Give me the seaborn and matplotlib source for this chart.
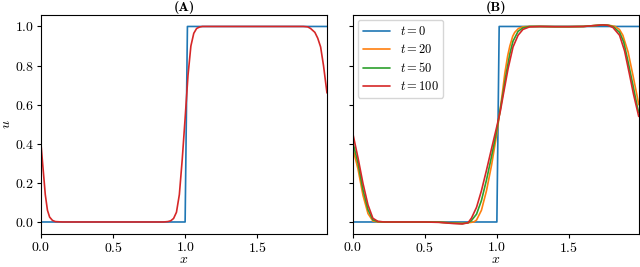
import numpy as np
import pandas as pd
import matplotlib
matplotlib.use('Agg')
import matplotlib.pyplot as plt
import seaborn as sns

# step (t = 0), same in both panels
x_step = [0.0, 1.0, 1.016, 1.984]
u_step = [0.0, 0.0, 1.0, 1.0]

# panel (A): all later curves lie on top of each other, only red is visible
x_a = [0.0, 0.015, 0.03, 0.045, 0.06, 0.08, 0.1, 0.15, 0.3, 0.5, 0.7, 0.85,
       0.88, 0.9, 0.92, 0.94, 0.96, 0.98, 1.0, 1.02, 1.04, 1.06, 1.08, 1.1,
       1.12, 1.15, 1.3, 1.5, 1.7, 1.82, 1.85, 1.87, 1.9, 1.92, 1.94, 1.96, 1.984]
u_a = [0.40, 0.27, 0.14, 0.06, 0.025, 0.008, 0.002, 0.0, 0.0, 0.0, 0.0, 0.0,
       0.002, 0.006, 0.018, 0.05, 0.14, 0.32, 0.53, 0.75, 0.9, 0.965, 0.99, 0.997,
       1.0, 1.0, 1.0, 1.0, 1.0, 1.0, 0.998, 0.99, 0.97, 0.94, 0.895, 0.80, 0.66]

# panel (B)
x_b20 = [0.0, 0.037, 0.071, 0.106, 0.14, 0.175, 0.22, 0.3, 0.4, 0.5, 0.6, 0.7,
         0.76, 0.8, 0.84, 0.859, 0.893, 0.928, 0.963, 0.997, 1.02, 1.04, 1.055,
         1.075, 1.09, 1.11, 1.124, 1.15, 1.18, 1.22, 1.3, 1.4, 1.5, 1.6, 1.7,
         1.74, 1.78, 1.82, 1.85, 1.874, 1.91, 1.944, 1.974, 1.984]
u_b20 = [0.38, 0.27, 0.137, 0.043, 0.005, 0.0, 0.0, 0.0, 0.0, 0.0, -0.001, -0.005,
         -0.007, -0.004, 0.0, 0.01, 0.06, 0.16, 0.29, 0.44, 0.56, 0.67, 0.76,
         0.85, 0.9, 0.95, 0.97, 0.99, 0.998, 1.0, 1.0, 0.999, 0.999, 1.0, 1.006,
         1.008, 1.006, 1.0, 0.985, 0.955, 0.87, 0.75, 0.64, 0.6]

x_b50 = [0.0, 0.037, 0.071, 0.106, 0.14, 0.175, 0.22, 0.3, 0.4, 0.5, 0.6, 0.7,
         0.76, 0.8, 0.824, 0.859, 0.893, 0.928, 0.963, 0.997, 1.02, 1.043, 1.065,
         1.09, 1.112, 1.147, 1.181, 1.227, 1.3, 1.4, 1.5, 1.6, 1.7, 1.735, 1.78,
         1.81, 1.851, 1.88, 1.91, 1.944, 1.974, 1.984]
u_b50 = [0.41, 0.30, 0.165, 0.063, 0.011, 0.002, 0.0, 0.0, 0.0, 0.0, -0.001, -0.006,
         -0.008, -0.004, 0.008, 0.04, 0.11, 0.215, 0.335, 0.46, 0.56, 0.66, 0.76,
         0.86, 0.925, 0.975, 0.993, 1.0, 1.0, 0.999, 0.999, 1.0, 1.006, 1.008, 1.005,
         0.997, 0.97, 0.92, 0.82, 0.70, 0.59, 0.56]

x_b100 = [0.0, 0.037, 0.071, 0.106, 0.14, 0.175, 0.22, 0.3, 0.4, 0.5, 0.6, 0.7,
          0.76, 0.8, 0.824, 0.859, 0.893, 0.928, 0.963, 0.997, 1.025, 1.043, 1.078,
          1.112, 1.147, 1.181, 1.227, 1.3, 1.4, 1.5, 1.6, 1.7, 1.735, 1.77, 1.805,
          1.851, 1.886, 1.92, 1.948, 1.984]
u_b100 = [0.455, 0.327, 0.198, 0.087, 0.019, 0.003, 0.0, 0.0, 0.0, 0.0, -0.002, -0.008,
          -0.01, -0.004, 0.02, 0.075, 0.16, 0.265, 0.375, 0.48, 0.57, 0.645, 0.785,
          0.895, 0.955, 0.985, 0.998, 1.0, 0.999, 0.999, 1.0, 1.006, 1.008, 1.006, 0.995,
          0.955, 0.875, 0.755, 0.653, 0.54]

labels = ['$t=0$', '$t=20$', '$t=50$', '$t=100$']
colors = ['#1f77b4', '#ff7f0e', '#2ca02c', '#d62728']


def make_df(pairs):
    frames = []
    for lab, (xs, us) in zip(labels, pairs):
        if xs is None:
            continue
        frames.append(pd.DataFrame({'x': xs, 'u': us, 'label': lab}))
    return pd.concat(frames, ignore_index=True)


def main():
    sns.set_theme(style='ticks')
    fs = 10
    plt.rcParams['font.family'] = 'serif'
    plt.rcParams['font.serif'] = ['cmr10', 'DejaVu Serif']
    plt.rcParams['mathtext.fontset'] = 'cm'
    plt.rcParams['axes.formatter.use_mathtext'] = True
    plt.rcParams['font.size'] = fs
    plt.rcParams['xtick.labelsize'] = fs
    plt.rcParams['ytick.labelsize'] = fs
    plt.rcParams['axes.labelsize'] = fs
    plt.rcParams['axes.edgecolor'] = 'black'
    plt.rcParams['axes.labelcolor'] = 'black'
    plt.rcParams['xtick.color'] = 'black'
    plt.rcParams['ytick.color'] = 'black'
    plt.rcParams['text.color'] = 'black'
    plt.rcParams['axes.linewidth'] = 0.8

    df_a = make_df([(x_step, u_step), (None, None), (None, None), (x_a, u_a)])
    df_b = make_df([(x_step, u_step), (x_b20, u_b20), (x_b50, u_b50), (x_b100, u_b100)])
    pal = dict(zip(labels, colors))

    fig, axes = plt.subplots(1, 2, figsize=(6.4, 2.67), dpi=100, sharey=True)
    fig.subplots_adjust(left=0.064, right=0.998, bottom=0.124, top=0.944, wspace=0.09)

    sns.lineplot(data=df_a, x='x', y='u', hue='label', palette=pal,
                 hue_order=[labels[0], labels[3]], estimator=None, sort=False,
                 linewidth=1.2, legend=False, ax=axes[0])
    sns.lineplot(data=df_b, x='x', y='u', hue='label', palette=pal,
                 hue_order=labels, estimator=None, sort=False,
                 linewidth=1.2, ax=axes[1])

    for ax, title in zip(axes, ['(A)', '(B)']):
        ax.set_xlim(min(x_step), max(x_step))
        ax.set_xticks([0.0, 0.5, 1.0, 1.5])
        ax.set_xlabel('$x$', labelpad=-0.5)
        ax.set_title(title, fontsize=fs, fontfamily='cmb10', pad=2.5)
        ax.tick_params(length=3, width=0.8, pad=1.8)
    axes[0].set_ylabel('$u$', labelpad=1.5)
    axes[0].set_yticks([0.0, 0.2, 0.4, 0.6, 0.8, 1.0])

    axes[1].legend(loc='upper left', fontsize=9, handlelength=2.15,
                   borderaxespad=0.4, labelspacing=0.4)

    fig.savefig('out.png', dpi=100)


if __name__ == "__main__":
    main()
